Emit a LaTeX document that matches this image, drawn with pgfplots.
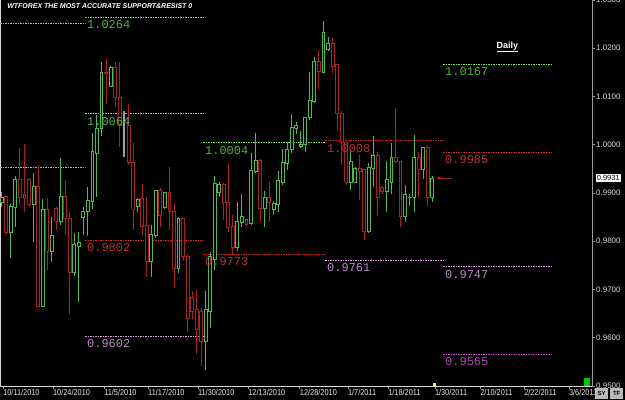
\documentclass[border=0pt]{standalone}
\usepackage{pgfplots}
\pgfplotsset{compat=1.18}
\usepackage{pgfplotstable}
\usetikzlibrary{arrows.meta}
\usepackage{fontspec}
\setmainfont{Liberation Sans}
\newfontfamily\tickfont[FakeStretch=0.86]{Liberation Sans}
\newfontfamily\lcd{Liberation Mono}
\definecolor{cgreen}{RGB}{80,185,80}
\definecolor{cred}{RGB}{170,35,35}
\definecolor{lgline}{RGB}{130,230,90}
\definecolor{lgtext}{RGB}{80,180,70}
\definecolor{lrline}{RGB}{210,40,40}
\definecolor{lrtext}{RGB}{185,50,50}
\definecolor{lpline}{RGB}{225,160,230}
\definecolor{lptext}{RGB}{185,140,200}
\definecolor{lmline}{RGB}{210,70,210}
\definecolor{lmtext}{RGB}{180,70,180}

\pgfplotstableread{
x o h l c
0 0.9880 0.9903 0.9872 0.9892
1 0.9894 0.9894 0.9812 0.9818
2 0.9818 0.9878 0.9766 0.9872
3 0.9870 0.9936 0.9830 0.9928
4 0.9928 0.9994 0.9876 0.9892
5 0.9897 1.0002 0.9861 0.9888
6 0.9928 0.9932 0.9872 0.9876
7 0.9876 0.9942 0.9799 0.9913
8 0.9913 0.9957 0.9663 0.9665
9 0.9665 0.9888 0.9665 0.9866
10 0.9866 0.9890 0.9741 0.9779
11 0.9779 0.9851 0.9756 0.9812
12 0.9868 0.9870 0.9824 0.9841
13 0.9841 0.9973 0.9834 0.9894
14 0.9894 0.9926 0.9814 0.9847
15 0.9847 0.9861 0.9650 0.9735
16 0.9735 0.9818 0.9729 0.9793
17 0.9789 0.9820 0.9675 0.9797
18 0.9849 0.9872 0.9812 0.9863
19 0.9861 0.9913 0.9810 0.9884
20 0.9882 1.0025 0.9866 0.9986
21 0.9983 1.0062 0.9892 1.0035
22 1.0035 1.0172 1.0019 1.0151
23 1.0151 1.0180 1.0085 1.0147
24 1.0122 1.0163 1.0120 1.0161
25 1.0161 1.0172 1.0079 1.0099
26 1.0099 1.0172 0.9996 1.0041
28 1.0041 1.0085 0.9959 0.9963
29 0.9963 1.0004 0.9824 0.9866
30 0.9872 0.9890 0.9861 0.9886
31 0.9888 0.9919 0.9810 0.9830
32 0.9832 0.9892 0.9725 0.9758
33 0.9758 0.9834 0.9725 0.9814
34 0.9812 0.9907 0.9806 0.9905
35 0.9905 0.9911 0.9830 0.9853
36 0.9870 0.9901 0.9866 0.9901
37 0.9901 0.9954 0.9824 0.9861
38 0.9861 0.9880 0.9706 0.9743
39 0.9743 0.9851 0.9735 0.9847
40 0.9847 0.9847 0.9760 0.9768
41 0.9768 0.9774 0.9611 0.9640
42 0.9683 0.9696 0.9638 0.9654
43 0.9659 0.9700 0.9566 0.9617
44 0.9654 0.9661 0.9541 0.9592
45 0.9592 0.9696 0.9534 0.9659
46 0.9654 0.9777 0.9621 0.9768
47 0.9762 0.9936 0.9741 0.9921
48 0.9901 0.9923 0.9892 0.9917
49 0.9917 0.9921 0.9845 0.9880
50 0.9880 0.9963 0.9820 0.9828
51 0.9830 0.9855 0.9772 0.9787
52 0.9787 0.9882 0.9779 0.9841
53 0.9839 0.9897 0.9830 0.9851
54 0.9845 0.9845 0.9830 0.9834
55 0.9837 0.9983 0.9834 0.9946
56 0.9944 1.0025 0.9942 0.9967
57 0.9967 0.9971 0.9839 0.9868
58 0.9868 0.9905 0.9830 0.9892
59 0.9892 0.9923 0.9839 0.9880
60 0.9866 0.9884 0.9855 0.9878
61 0.9876 0.9946 0.9861 0.9926
62 0.9923 0.9992 0.9917 0.9963
63 0.9961 1.0006 0.9948 0.9990
64 0.9990 1.0064 0.9983 1.0037
65 1.0035 1.0048 1.0023 1.0041
66 0.9996 1.0029 0.9994 1.0000
67 1.0000 1.0058 0.9986 1.0056
68 1.0056 1.0151 1.0052 1.0093
69 1.0089 1.0182 1.0087 1.0172
70 1.0172 1.0197 1.0116 1.0153
71 1.0151 1.0257 1.0149 1.0232
72 1.0197 1.0223 1.0194 1.0211
73 1.0211 1.0221 1.0149 1.0163
74 1.0166 1.0166 1.0031 1.0066
75 1.0066 1.0070 0.9959 1.0006
76 1.0004 1.0004 0.9917 0.9923
77 0.9923 0.9990 0.9907 0.9965
78 0.9923 0.9954 0.9921 0.9952
79 0.9952 0.9979 0.9886 0.9944
80 0.9948 0.9948 0.9803 0.9820
81 0.9820 0.9963 0.9818 0.9954
82 0.9952 1.0019 0.9913 0.9979
83 0.9979 0.9986 0.9855 0.9892
84 0.9911 0.9915 0.9897 0.9903
85 0.9903 0.9967 0.9861 0.9928
86 0.9923 1.0004 0.9897 0.9973
87 0.9973 1.0077 0.9963 0.9965
88 0.9965 0.9967 0.9830 0.9851
89 0.9851 0.9917 0.9839 0.9897
90 0.9890 0.9897 0.9874 0.9892
91 0.9892 1.0021 0.9861 0.9973
92 0.9973 0.9986 0.9890 0.9948
93 0.9948 0.9996 0.9928 0.9994
94 0.9994 1.0000 0.9874 0.9892
95 0.9892 0.9936 0.9882 0.9930
}\candles

\begin{document}
\begin{tikzpicture}
\fill[black] (0bp,-14bp) rectangle (625bp,386bp);
\begin{axis}[
  at={(0bp,0bp)}, anchor=south west,
  scale only axis, width=592bp, height=386bp,
  xmin=-0.375, xmax=130.3, ymin=0.95, ymax=1.03,
  clip=false,
  axis line style={draw=none},
  xtick pos=bottom, ytick pos=right, yticklabel pos=right,
  tick align=outside,
  major tick length=3bp,
  tick style={gray!80, line width=0.6bp},
  xtick={0.3,11.3,22.6,32.3,43.3,54.4,65.8,76.4,85.3,95.6,105.6,115.3,125.2},
  xticklabels={10/11/2010,10/24/2010,11/5/2010,11/17/2010,11/30/2010,12/13/2010,12/28/2010,1/7/2011,1/18/2011,1/30/2011,2/10/2011,2/22/2011,3/6/2011},
  xticklabel style={anchor=north west, inner sep=0.5bp, yshift=0bp, xshift=-0.5bp, font=\tickfont\fontsize{8.6}{9}\selectfont, text=white!90!black},
  ytick={0.95,0.96,0.97,0.98,0.99,1.00,1.01,1.02,1.03},
  yticklabel style={anchor=west, inner sep=1bp, font=\fontsize{8}{8}\selectfont, text=white!85!black,
    /pgf/number format/.cd, fixed, fixed zerofill, precision=4, assume math mode=true},
]
% axis frame
\draw[white!85!black, line width=0.8bp] (rel axis cs:0,1) -- (rel axis cs:0,0) -- (rel axis cs:1,0);
\draw[gray!80, line width=0.8bp] (rel axis cs:1,0) -- (rel axis cs:1,1);

% level lines
\addplot[lgline, line width=0.9bp, dash pattern=on 1.5bp off 1bp] coordinates {(-0.375,1.0252) (18.39,1.0252)};
\addplot[lgline, line width=0.9bp, dash pattern=on 1.5bp off 1bp] coordinates {(-0.375,0.9953) (18.39,0.9953)};
\addplot[lgline, line width=0.9bp, dash pattern=on 1.5bp off 1bp] coordinates {(18.39,1.0264) (44.44,1.0264)};
\addplot[lgline, line width=0.9bp, dash pattern=on 1.5bp off 1bp] coordinates {(18.39,1.0064) (44.44,1.0064)};
\addplot[lrline, line width=0.9bp, dash pattern=on 1.5bp off 1bp] coordinates {(18.39,0.9802) (44.44,0.9802)};
\addplot[lpline, line width=0.9bp, dash pattern=on 1.5bp off 1bp] coordinates {(18.39,0.9602) (44.44,0.9602)};
\addplot[lgline, line width=0.9bp, dash pattern=on 1.5bp off 1bp] coordinates {(44.44,1.0004) (71.37,1.0004)};
\addplot[lrline, line width=0.9bp, dash pattern=on 1.5bp off 1bp] coordinates {(44.44,0.9773) (71.37,0.9773)};
\addplot[lrline, line width=0.9bp, dash pattern=on 1.5bp off 1bp] coordinates {(71.37,1.0008) (97.42,1.0008)};
\addplot[lpline, line width=0.9bp, dash pattern=on 1.5bp off 1bp] coordinates {(71.37,0.9761) (97.42,0.9761)};
\addplot[lgline, line width=0.9bp, dash pattern=on 1.5bp off 1bp] coordinates {(97.42,1.0167) (121.48,1.0167)};
\addplot[lrline, line width=0.9bp, dash pattern=on 1.5bp off 1bp] coordinates {(97.42,0.9985) (121.48,0.9985)};
\addplot[lpline, line width=0.9bp, dash pattern=on 1.5bp off 1bp] coordinates {(97.42,0.9747) (121.48,0.9747)};
\addplot[lmline, line width=0.9bp, dash pattern=on 1.5bp off 1bp] coordinates {(97.42,0.9565) (121.48,0.9565)};

% candles
\pgfplotstablegetrowsof{\candles}
\pgfmathtruncatemacro{\lastrow}{\pgfplotsretval-1}
\pgfplotsforeachungrouped \i in {0,...,\lastrow}{%
  \pgfplotstablegetelem{\i}{x}\of\candles \let\cx\pgfplotsretval
  \pgfplotstablegetelem{\i}{o}\of\candles \let\co\pgfplotsretval
  \pgfplotstablegetelem{\i}{h}\of\candles \let\ch\pgfplotsretval
  \pgfplotstablegetelem{\i}{l}\of\candles \let\cl\pgfplotsretval
  \pgfplotstablegetelem{\i}{c}\of\candles \let\cc\pgfplotsretval
  \ifdim\cc pt<\co pt \def\col{cred}\let\lo\cc\let\hi\co\else\def\col{cgreen}\let\lo\co\let\hi\cc\fi
  \pgfmathsetmacro\xa{\cx-0.32}%
  \pgfmathsetmacro\xb{\cx+0.32}%
  \edef\temp{%
    \noexpand\addplot[draw=\col, line width=0.7bp] coordinates {(\cx,\ch) (\cx,\hi)};
    \noexpand\addplot[draw=\col, line width=0.7bp] coordinates {(\cx,\lo) (\cx,\cl)};
    \noexpand\addplot[draw=\col, fill=black, line width=0.7bp] coordinates {(\xa,\lo) (\xb,\lo) (\xb,\hi) (\xa,\hi) (\xa,\lo)};
  }%
  \temp
}
\addplot[draw=gray!75, line width=1.6bp] coordinates {(27,0.9975) (27,1.0070)};

% level labels
\tikzset{lvl/.style={anchor=north west, inner sep=0pt, xshift=2bp, yshift=-3bp, font=\lcd\fontsize{12}{12}\selectfont}}
\node[lvl, text=lgtext] at (axis cs:18.39,1.0264) {1.0264};
\node[lvl, text=lgtext] at (axis cs:18.39,1.0064) {1.0064};
\node[lvl, text=lrtext] at (axis cs:18.39,0.9802) {0.9802};
\node[lvl, text=lptext] at (axis cs:18.39,0.9602) {0.9602};
\node[lvl, text=lgtext] at (axis cs:44.44,1.0004) {1.0004};
\node[lvl, text=lrtext] at (axis cs:44.44,0.9773) {0.9773};
\node[lvl, text=lrtext] at (axis cs:71.37,1.0008) {1.0008};
\node[lvl, text=lptext] at (axis cs:71.37,0.9761) {0.9761};
\node[lvl, text=lgtext] at (axis cs:97.42,1.0167) {1.0167};
\node[lvl, text=lrtext] at (axis cs:97.42,0.9985) {0.9985};
\node[lvl, text=lptext] at (axis cs:97.42,0.9747) {0.9747};
\node[lvl, text=lmtext] at (axis cs:97.42,0.9565) {0.9565};

% title and annotations
\node[anchor=north west, inner sep=0pt, text=white, font=\bfseries\itshape\fontsize{7}{8}\selectfont] at (rel axis cs:0.012,0.99) {WTFOREX THE MOST ACCURATE SUPPORT\&RESIST 0};
\node[anchor=center, inner sep=0pt, text=white, font=\bfseries\fontsize{9}{10}\selectfont] at (axis cs:111.6,1.0203) {\underline{Daily}};
\draw[cred, line width=1bp, -{Stealth[length=5bp,width=4bp]}] (axis cs:99.3,0.9931) -- (axis cs:95.9,0.9931);
\node[anchor=west, fill=white, text=black, inner sep=1bp, font=\fontsize{7.5}{8}\selectfont] at (axis cs:131.1,0.9931) {0.9931};
\fill[green!80!black] (axis cs:128.6,0.95) rectangle (axis cs:129.9,0.9516);
\fill[yellow!90!white] (axis cs:95.3,0.95) rectangle (axis cs:95.9,0.9506);
\end{axis}
\node[anchor=south west, fill=gray!55, text=black, inner sep=1bp, minimum width=13bp, minimum height=11bp, font=\bfseries\fontsize{6}{7}\selectfont] at (595bp,-13bp) {SY};
\node[anchor=south west, fill=gray!55, text=black, inner sep=1bp, minimum width=13bp, minimum height=11bp, font=\bfseries\fontsize{6}{7}\selectfont] at (610bp,-13bp) {TF};
\pgfresetboundingbox
\path[use as bounding box] (0bp,-14bp) rectangle (625bp,386bp);
\end{tikzpicture}
\end{document}
